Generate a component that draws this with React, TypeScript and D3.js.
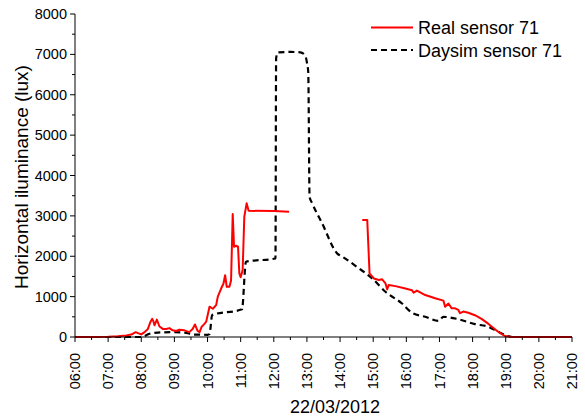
import React from "react";
import * as d3 from "d3";

const realTimes: number[] = [
  6.0, 6.5, 7.0, 7.3, 7.55, 7.7, 7.83, 7.92, 8.0, 8.1, 8.2, 8.28, 8.33, 8.37, 8.4, 8.47, 8.55, 8.65, 8.75, 8.85,
  8.95, 9.05, 9.15, 9.3, 9.45, 9.55, 9.62, 9.7, 9.76, 9.82, 9.9, 9.96, 10.06, 10.16, 10.26, 10.31, 10.41, 10.48,
  10.53, 10.58, 10.66, 10.71, 10.76, 10.8, 10.86, 10.92, 10.96, 11.0, 11.06, 11.11, 11.18, 11.24, 12.0, 12.46,
  13.5,
  14.67, 14.82, 14.89, 15.02, 15.17, 15.27, 15.37, 15.42, 15.47, 15.67, 15.97, 16.17, 16.22, 16.32, 16.57, 16.87,
  17.12, 17.17, 17.27, 17.37, 17.47, 17.57, 17.62, 17.72, 17.87, 18.07, 18.27, 18.47, 18.77, 18.97, 19.17, 21.0,
];
const realValues: (number | null)[] = [
  0, 0, 5, 20, 40, 60, 120, 90, 65, 120, 200, 380, 450, 380, 290, 430, 260, 200, 200, 220,
  165, 150, 180, 165, 120, 200, 310, 150, 120, 250, 320, 380, 750, 700, 790, 1000, 1200, 1320,
  1530, 1245, 1245, 1400, 3045, 2235, 2260, 2235, 1575, 1480, 1660, 2980, 3310, 3125, 3120, 3100,
  null,
  2900, 2900, 1575, 1450, 1410, 1430, 1330, 1180, 1290, 1260, 1200, 1160, 1100, 1150, 1040, 960,
  900, 750, 830, 710, 710, 670, 590, 630, 600, 540, 450, 330, 130, 25, 0, 0,
];

const daysimTimes: number[] = [
  6.0, 8.0, 8.25, 8.5, 9.0, 9.3, 9.6, 10.0, 10.06, 10.14, 11.04, 11.16, 12.05, 12.07, 12.12, 12.5, 12.8, 12.94,
  13.0, 13.04, 13.08, 13.16, 13.46, 13.91, 14.07, 14.57, 14.97, 15.37, 15.87, 16.17, 16.57, 16.97, 17.12, 17.57,
  18.07, 18.47, 18.77, 19.07, 19.2, 21.0,
];
const daysimValues: number[] = [
  0, 0, 80, 110, 120, 110, 60, 55, 70, 545, 685, 1865, 1945, 6900, 7050, 7060, 7050, 6980,
  6800, 6550, 3470, 3310, 2814, 2072, 1990, 1700, 1450, 1120, 830, 600, 500, 400, 500, 440,
  320, 255, 130, 25, 0, 0,
];

const xTickLabels: string[] = [
  "06:00", "07:00", "08:00", "09:00", "10:00", "11:00", "12:00", "13:00",
  "14:00", "15:00", "16:00", "17:00", "18:00", "19:00", "20:00", "21:00",
];
const yTicks: number[] = [0, 1000, 2000, 3000, 4000, 5000, 6000, 7000, 8000];
const seriesNames: string[] = ["Real sensor 71", "Daysim sensor 71"];
const xTitle = "22/03/2012";
const yTitle = "Horizontal iluminance (lux)";

const W = 585;
const H = 419;
const L = 75;
const R = 572;
const T = 14;
const B = 337;
const FONT = "'Liberation Sans', Arial, sans-serif";

export default function App() {
  const x = d3.scaleLinear().domain([6, 21]).range([L, R]);
  const y = d3.scaleLinear().domain([0, 8000]).range([B, T]);

  const realData = realTimes.map((t, i) => ({ t, v: realValues[i] }));
  const dayData = daysimTimes.map((t, i) => ({ t, v: daysimValues[i] }));

  const realLine = d3
    .line<{ t: number; v: number | null }>()
    .defined((d) => d.v !== null)
    .x((d) => x(d.t))
    .y((d) => y(d.v as number));
  const dayLine = d3
    .line<{ t: number; v: number }>()
    .x((d) => x(d.t))
    .y((d) => y(d.v))
    .curve(d3.curveMonotoneX);

  const majorX = d3.range(6, 21.001, 1);
  const minorX = d3.range(6.5, 21, 1);
  const minorY = d3.range(500, 8000, 1000);

  return (
    <svg
      width={W}
      height={H}
      style={{ position: "fixed", left: 0, top: 0, background: "#fff" }}
      fontFamily={FONT}
    >
      <rect x={0} y={0} width={W} height={H} fill="#fff" />
      {/* data */}
      <path d={dayLine(dayData) || ""} fill="none" stroke="#000" strokeWidth={2.2} strokeDasharray="6,4" />
      <path d={realLine(realData) || ""} fill="none" stroke="#ff0000" strokeWidth={2} strokeLinejoin="round" />

      {/* axes */}
      <line x1={L} x2={L} y1={T} y2={B} stroke="#000" strokeWidth={1} />
      <line x1={L} x2={R} y1={B} y2={B} stroke="#000" strokeWidth={1} />
      {yTicks.map((v) => (
        <g key={"y" + v}>
          <line x1={L - 5} x2={L} y1={y(v)} y2={y(v)} stroke="#000" strokeWidth={1} />
          <text x={L - 8} y={y(v)} dy="0.35em" textAnchor="end" fontSize={14.5} fill="#000">
            {v}
          </text>
        </g>
      ))}
      {minorY.map((v) => (
        <line key={"ym" + v} x1={L - 3} x2={L} y1={y(v)} y2={y(v)} stroke="#000" strokeWidth={1} />
      ))}
      {majorX.map((t, i) => (
        <g key={"x" + t}>
          <line x1={x(t)} x2={x(t)} y1={B} y2={B + 5} stroke="#000" strokeWidth={1} />
          <text
            transform={`translate(${x(t)},${B + 16}) rotate(-90)`}
            dy="0.35em"
            textAnchor="end"
            fontSize={14.5}
            fill="#000"
          >
            {xTickLabels[i]}
          </text>
        </g>
      ))}
      {minorX.map((t) => (
        <line key={"xm" + t} x1={x(t)} x2={x(t)} y1={B} y2={B + 3} stroke="#000" strokeWidth={1} />
      ))}

      {/* titles */}
      <text x={335} y={413} textAnchor="middle" fontSize={18} fill="#000">
        {xTitle}
      </text>
      <text transform={`translate(28,177) rotate(-90)`} textAnchor="middle" fontSize={19} fill="#000">
        {yTitle}
      </text>

      {/* legend */}
      <line x1={371} x2={413} y1={27.5} y2={27.5} stroke="#ff0000" strokeWidth={2} />
      <text x={418} y={34.3} fontSize={18} fill="#000">
        {seriesNames[0]}
      </text>
      <line x1={371} x2={413} y1={50} y2={50} stroke="#000" strokeWidth={2.2} strokeDasharray="6,4" />
      <text x={418} y={56.5} fontSize={18} fill="#000">
        {seriesNames[1]}
      </text>
    </svg>
  );
}
